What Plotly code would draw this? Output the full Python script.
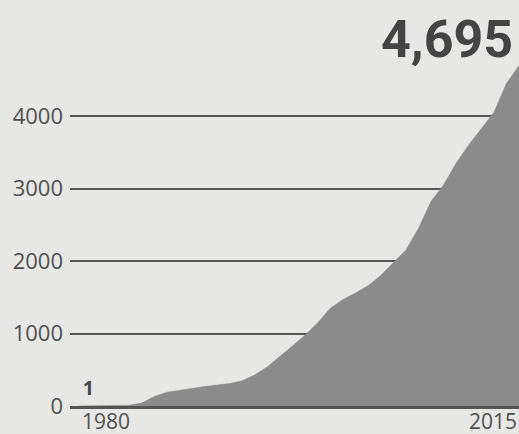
import plotly.graph_objects as go

years = list(range(1980, 2016))
values = [1, 3, 5, 7, 10, 40, 130, 190, 220, 250, 270, 290, 310, 350, 430, 540,
          680, 830, 980, 1150, 1350, 1470, 1560, 1660, 1800, 1980, 2150, 2450,
          2820, 3050, 3350, 3600, 3830, 4050, 4450, 4695]
ytick_vals = [0, 1000, 2000, 3000, 4000]
ytick_text = ["0", "1000", "2000", "3000", "4000"]
start_label = "1980"
end_label = "2015"
start_value_label = "1"
end_value_label = "4,695"

BG = "#e7e7e5"
AREA = "#8b8b8b"
LINE = "#555555"
TXT = "#505050"

fig = go.Figure()
fig.add_trace(go.Scatter(
    x=years, y=values, mode="lines", fill="tozeroy",
    fillcolor=AREA, line=dict(color=AREA, width=0.5),
    hoverinfo="skip", showlegend=False,
))

fig.update_layout(
    width=519, height=434,
    margin=dict(l=70, r=0, t=0, b=28),
    paper_bgcolor=BG, plot_bgcolor=BG,
    font=dict(family="Open Sans, sans-serif", color=TXT, size=20),
    xaxis=dict(range=[1979.3, 2015], showgrid=False, zeroline=False,
               showticklabels=False, showline=True, linecolor=LINE,
               linewidth=3, ticks=""),
    yaxis=dict(range=[0, 5600], tickvals=ytick_vals, ticktext=ytick_text,
               showgrid=True, gridcolor=LINE, gridwidth=2, zeroline=False,
               showline=False, ticks="", ticklabelstandoff=6,
               tickfont=dict(size=22, color=TXT)),
    annotations=[
        dict(x=years[0], y=0, xref="x", yref="y", text=start_label,
             xanchor="left", yanchor="top", showarrow=False, yshift=1,
             xshift=1, font=dict(size=21, color=TXT)),
        dict(x=years[-1], y=0, xref="x", yref="y", text=end_label,
             xanchor="right", yanchor="top", showarrow=False, yshift=1,
             font=dict(size=21, color=TXT)),
        dict(x=years[0], y=values[0], xref="x", yref="y",
             text="<b>" + start_value_label + "</b>",
             xanchor="center", yanchor="bottom", showarrow=False,
             xshift=10, yshift=3, font=dict(size=19, color="#444444")),
        dict(x=years[-1], y=values[-1], xref="x", yref="y",
             text="<b>" + end_value_label + "</b>",
             xanchor="right", yanchor="bottom", showarrow=False,
             xshift=-4, yshift=-6,
             font=dict(family="Roboto, sans-serif",
                       size=52, color="#444444")),
    ],
)

fig.write_html(
    "out.html",
    config={"displayModeBar": False, "staticPlot": True},
    post_script=(
        "document.body.style.margin='0';"
        "document.body.style.overflow='hidden';"
        "document.body.style.background='" + BG + "';"
    ),
)
